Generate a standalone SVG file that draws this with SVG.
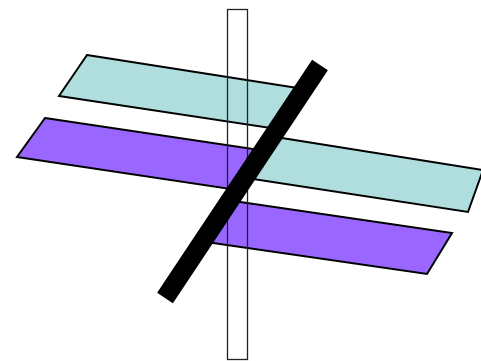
<svg xmlns="http://www.w3.org/2000/svg" width="481" height="361" viewBox="0 0 481 361">
  <style>
    .plane { stroke: #000; stroke-width: 2; stroke-linejoin: miter; }
    .teal { fill: #b0dddd; }
    .purple { fill: #9966ff; }
  </style>
  <rect width="481" height="361" fill="#fff"/>
  <g id="teal-left"><polygon class="plane teal" points="87,55 304,89 277,129 59,96"/></g>
  <g id="teal-right"><polygon class="plane teal" points="272.5,136.4 483,170 468,212 245,177.7"/></g>
  <g id="purple-left"><polygon class="plane purple" points="45,118 263,150.5 237,190 17,157"/></g>
  <g id="purple-right"><polygon class="plane purple" points="230,200.5 452,233 427,274 202.5,241.6"/></g>
  <g id="vertical-plane"><rect x="227.5" y="9.5" width="20" height="350" fill="none" stroke="#222" stroke-width="1.3"/></g>
  <g id="bar"><polygon points="312.1,59.7 327.9,70.3 172.9,303.3 157.1,292.7" fill="#000"/></g>
</svg>
